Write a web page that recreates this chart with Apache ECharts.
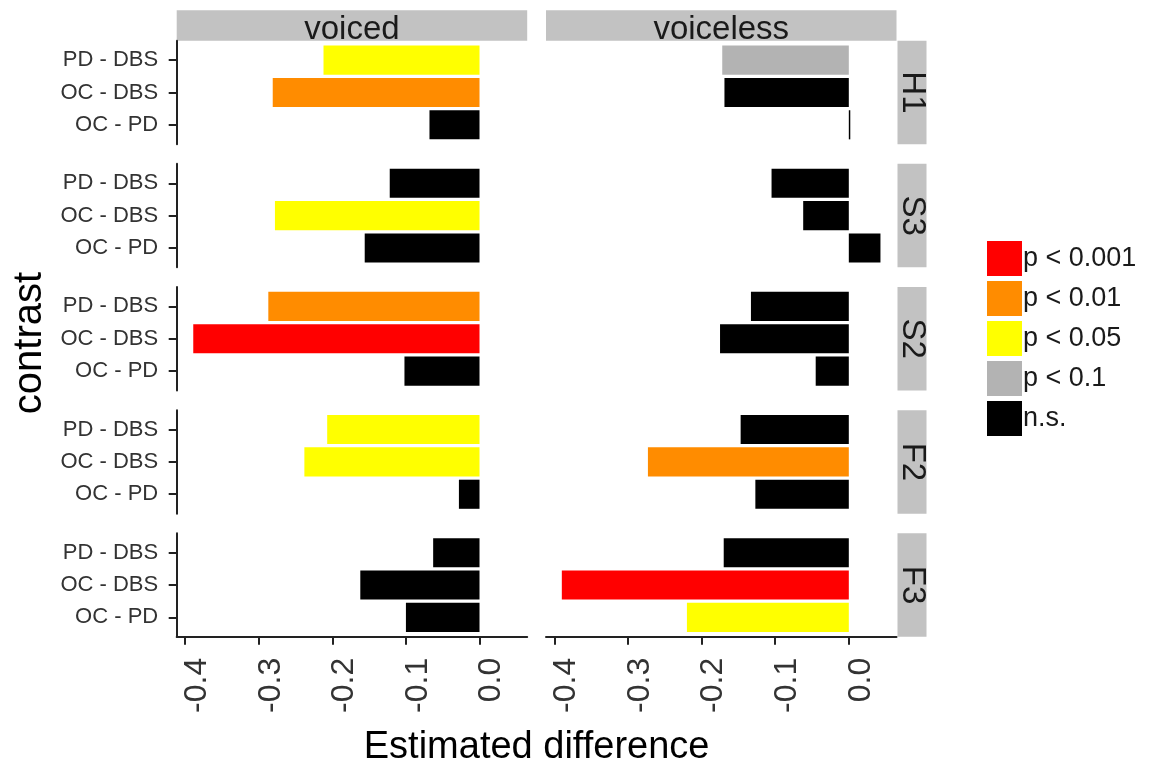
<!DOCTYPE html>
<html>
<head>
<meta charset="utf-8">
<script src="https://cdn.jsdelivr.net/npm/echarts@6/dist/echarts.min.js"></script>
<style>html,body{margin:0;padding:0;background:#fff}#c{width:1151px;height:767px}</style>
</head>
<body>
<div id="c"></div>
<script>
// ---- data ----
const colFacets = ['voiced', 'voiceless'];
const rowFacets = ['H1', 'S3', 'S2', 'F2', 'F3'];
const contrasts = ['PD - DBS', 'OC - DBS', 'OC - PD'];
const sigLevels = ['p < 0.001', 'p < 0.01', 'p < 0.05', 'p < 0.1', 'n.s.'];
const sigColors = ['#ff0000', '#ff8c00', '#ffff00', '#b3b3b3', '#000000'];
const xTicks = [-0.4, -0.3, -0.2, -0.1, 0.0];

// estimated differences (order: PD - DBS, OC - DBS, OC - PD)
const voicedH1 = [-0.212, -0.281, -0.068];
const voicedS3 = [-0.122, -0.278, -0.156];
const voicedS2 = [-0.287, -0.389, -0.102];
const voicedF2 = [-0.207, -0.238, -0.028];
const voicedF3 = [-0.063, -0.162, -0.100];
const voicelessH1 = [-0.172, -0.169, 0.002];
const voicelessS3 = [-0.105, -0.062, 0.043];
const voicelessS2 = [-0.133, -0.175, -0.045];
const voicelessF2 = [-0.147, -0.273, -0.127];
const voicelessF3 = [-0.170, -0.390, -0.220];

// significance levels
const voicedH1Sig = ['p < 0.05', 'p < 0.01', 'n.s.'];
const voicedS3Sig = ['n.s.', 'p < 0.05', 'n.s.'];
const voicedS2Sig = ['p < 0.01', 'p < 0.001', 'n.s.'];
const voicedF2Sig = ['p < 0.05', 'p < 0.05', 'n.s.'];
const voicedF3Sig = ['n.s.', 'n.s.', 'n.s.'];
const voicelessH1Sig = ['p < 0.1', 'n.s.', 'n.s.'];
const voicelessS3Sig = ['n.s.', 'n.s.', 'n.s.'];
const voicelessS2Sig = ['n.s.', 'n.s.', 'n.s.'];
const voicelessF2Sig = ['n.s.', 'p < 0.01', 'n.s.'];
const voicelessF3Sig = ['n.s.', 'p < 0.001', 'p < 0.05'];

const panelValues = [
  [voicedH1, voicedS3, voicedS2, voicedF2, voicedF3],
  [voicelessH1, voicelessS3, voicelessS2, voicelessF2, voicelessF3]
];
const panelSig = [
  [voicedH1Sig, voicedS3Sig, voicedS2Sig, voicedF2Sig, voicedF3Sig],
  [voicelessH1Sig, voicelessS3Sig, voicelessS2Sig, voicelessF2Sig, voicelessF3Sig]
];

// ---- layout ----
const FONT = '"Liberation Sans", Arial, Helvetica, sans-serif';
const colX = [176.7, 546];
const panelW = 350.5;
const rowY0 = 40.7, rowPitch = 123.15, panelH = 103.5;
const stripTop = 10.3, stripH = 30.4, stripW = 29;
const xMin = -0.4115, xMax = 0.0648;
const axisColor = '#222222';
const labelColor = '#333333';

const grids = [], xAxes = [], yAxes = [], series = [];
let gi = 0;
for (let c = 0; c < colFacets.length; c++) {
  for (let r = 0; r < rowFacets.length; r++) {
    grids.push({left: colX[c], top: rowY0 + r * rowPitch, width: panelW, height: panelH, containLabel: false});
    const bottom = r === rowFacets.length - 1;
    xAxes.push({
      type: 'value', gridIndex: gi, min: xMin, max: xMax,
      show: bottom,
      splitLine: {show: false},
      axisLine: {show: true, onZero: false, lineStyle: {color: axisColor, width: 2}},
      axisTick: {show: true, length: 8, inside: false, customValues: xTicks, lineStyle: {color: axisColor, width: 2}},
      axisLabel: {
        show: true, customValues: xTicks, rotate: 90, margin: 21,
        fontSize: 32, color: labelColor, fontFamily: FONT,
        verticalAlign: 'top', lineHeight: 24,
        formatter: v => Number(v).toFixed(1)
      }
    });
    yAxes.push({
      type: 'value', gridIndex: gi, min: 0.4, max: 3.6, inverse: true,
      show: c === 0,
      splitLine: {show: false},
      axisLine: {show: true, onZero: false, lineStyle: {color: axisColor, width: 2}},
      axisTick: {show: true, length: 8, customValues: [1, 2, 3], lineStyle: {color: axisColor, width: 2}},
      axisLabel: {
        show: true, customValues: [1, 2, 3], margin: 18.5,
        fontSize: 22, color: labelColor, fontFamily: FONT,
        formatter: v => contrasts[Math.round(v) - 1] || ''
      }
    });
    const vals = panelValues[c][r], sigs = panelSig[c][r];
    series.push({
      type: 'custom', xAxisIndex: gi, yAxisIndex: gi, clip: false,
      data: vals.map((v, i) => [v, i + 1, sigLevels.indexOf(sigs[i])]),
      encode: {x: 0, y: 1},
      renderItem: function (params, api) {
        const v = api.value(0), cat = api.value(1), s = api.value(2);
        const p0 = api.coord([0, cat]);
        const p1 = api.coord([v, cat]);
        const h = Math.abs(api.size([0, 0.9])[1]);
        return {
          type: 'rect',
          shape: {x: Math.min(p0[0], p1[0]), y: p0[1] - h / 2, width: Math.abs(p1[0] - p0[0]), height: h},
          style: {fill: sigColors[s]}
        };
      }
    });
    gi++;
  }
}
// legend-only series
sigLevels.forEach((name, i) => {
  series.push({
    type: 'custom', name: name, xAxisIndex: 0, yAxisIndex: 0,
    itemStyle: {color: sigColors[i]}, data: [],
    renderItem: () => null
  });
});

// strips
const graphics = [];
colFacets.forEach((f, c) => {
  graphics.push({type: 'rect', left: colX[c], top: stripTop, shape: {width: panelW, height: stripH}, style: {fill: '#c2c2c2'}, silent: true});
  graphics.push({type: 'text', x: colX[c] + panelW / 2, y: stripTop + stripH / 2 + 4,
    style: {text: f, font: '33px ' + FONT, fill: '#1a1a1a', align: 'center', verticalAlign: 'middle'}, silent: true});
});
rowFacets.forEach((f, r) => {
  const sx = colX[1] + panelW + 1, sy = rowY0 + r * rowPitch;
  graphics.push({type: 'rect', left: sx, top: sy, shape: {width: stripW, height: panelH}, style: {fill: '#c2c2c2'}, silent: true});
  graphics.push({type: 'text', x: sx + stripW / 2, y: sy + panelH / 2, rotation: -Math.PI / 2,
    style: {text: f, font: '33px ' + FONT, fill: '#1a1a1a', align: 'center', verticalAlign: 'middle'}, silent: true});
});
// axis titles
graphics.push({type: 'text', x: 30, y: 343, rotation: Math.PI / 2,
  style: {text: 'contrast', font: '40px ' + FONT, fill: '#000', align: 'center', verticalAlign: 'middle'}, silent: true});
graphics.push({type: 'text', x: (colX[0] + colX[1] + panelW) / 2, y: 748,
  style: {text: 'Estimated difference', font: '38px ' + FONT, fill: '#000', align: 'center', verticalAlign: 'middle'}, silent: true});

const chart = echarts.init(document.getElementById('c'), null, {renderer: 'canvas'});
chart.setOption({
  animation: false,
  backgroundColor: '#ffffff',
  grid: grids,
  xAxis: xAxes,
  yAxis: yAxes,
  series: series,
  legend: {
    data: sigLevels, orient: 'vertical', left: 982, top: 236,
    icon: 'rect', itemWidth: 35, itemHeight: 35, itemGap: 5,
    selectedMode: false,
    textStyle: {fontSize: 27, color: '#1a1a1a', fontFamily: FONT, padding: [0, 0, 0, -4]}
  },
  graphic: graphics
});
</script>
</body>
</html>
